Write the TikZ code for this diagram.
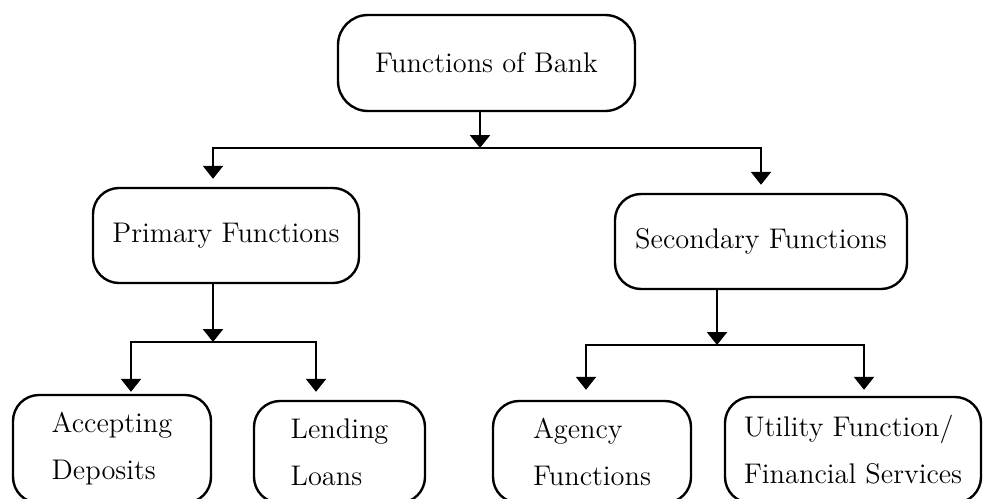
\documentclass[tikz,border=0pt]{standalone}
\usepackage{tikz}
\usetikzlibrary{arrows.meta}

\begin{document}
\begin{tikzpicture}[x=0.5pt,y=-0.5pt,
	box/.style={draw, line width=1.2pt, rounded corners=13pt, align=left,
		inner sep=0pt, font=\fontsize{14.2}{23.5}\selectfont},
	arr/.style={line width=1.2pt, -{Triangle[width=10pt,length=6.5pt]}}]
\clip (0,0) rectangle (983,498);

% boxes
\node [box, rounded corners=15pt, minimum width=148.5pt, minimum height=48pt] (bank) at (486.5,63) {Functions of Bank};
\node [box, minimum width=133pt, minimum height=47.5pt] (primary) at (226,235.5) {Primary Functions};
\node [box, minimum width=146pt, minimum height=47.5pt] (secondary) at (761,241.5) {Secondary Functions};

\node [box, minimum width=99pt, minimum height=54pt] (accepting) at (112,449) {Accepting\\Deposits};
\node [box, minimum width=85.5pt, minimum height=51pt] (lending) at (339.5,452) {Lending\\Loans};
\node [box, minimum width=99pt, minimum height=51pt] (agency) at (592,452) {Agency\\Functions};
\node [box, minimum width=128pt, minimum height=53pt] (utility) at (853,450) {Utility Function/\\Financial Services};

% rails
\coordinate (j0) at (480,148);
\coordinate (jl) at (213,148);
\coordinate (jr) at (761,148);
\coordinate (p0) at (213,342);
\coordinate (pl) at (131,342);
\coordinate (pr) at (316,342);
\coordinate (s0) at (717,345);
\coordinate (sl) at (586,345);
\coordinate (sr) at (864,345);

\draw [arr] (bank.south -| j0) to (j0);
\draw [arr, shorten >=4pt] (j0) -| (jl |- primary.north);
\draw [arr, shorten >=4pt] (j0) -| (jr |- secondary.north);

\draw [arr] (primary.south -| p0) to (p0);
\draw [arr, shorten >=1pt] (p0) -| (pl |- accepting.north);
\draw [arr, shorten >=1pt] (p0) -| (pr |- accepting.north);

\draw [arr] (secondary.south -| s0) to (s0);
\draw [arr, shorten >=3pt] (s0) -| (sl |- utility.north);
\draw [arr, shorten >=3pt] (s0) -| (sr |- utility.north);
\end{tikzpicture}
\end{document}
